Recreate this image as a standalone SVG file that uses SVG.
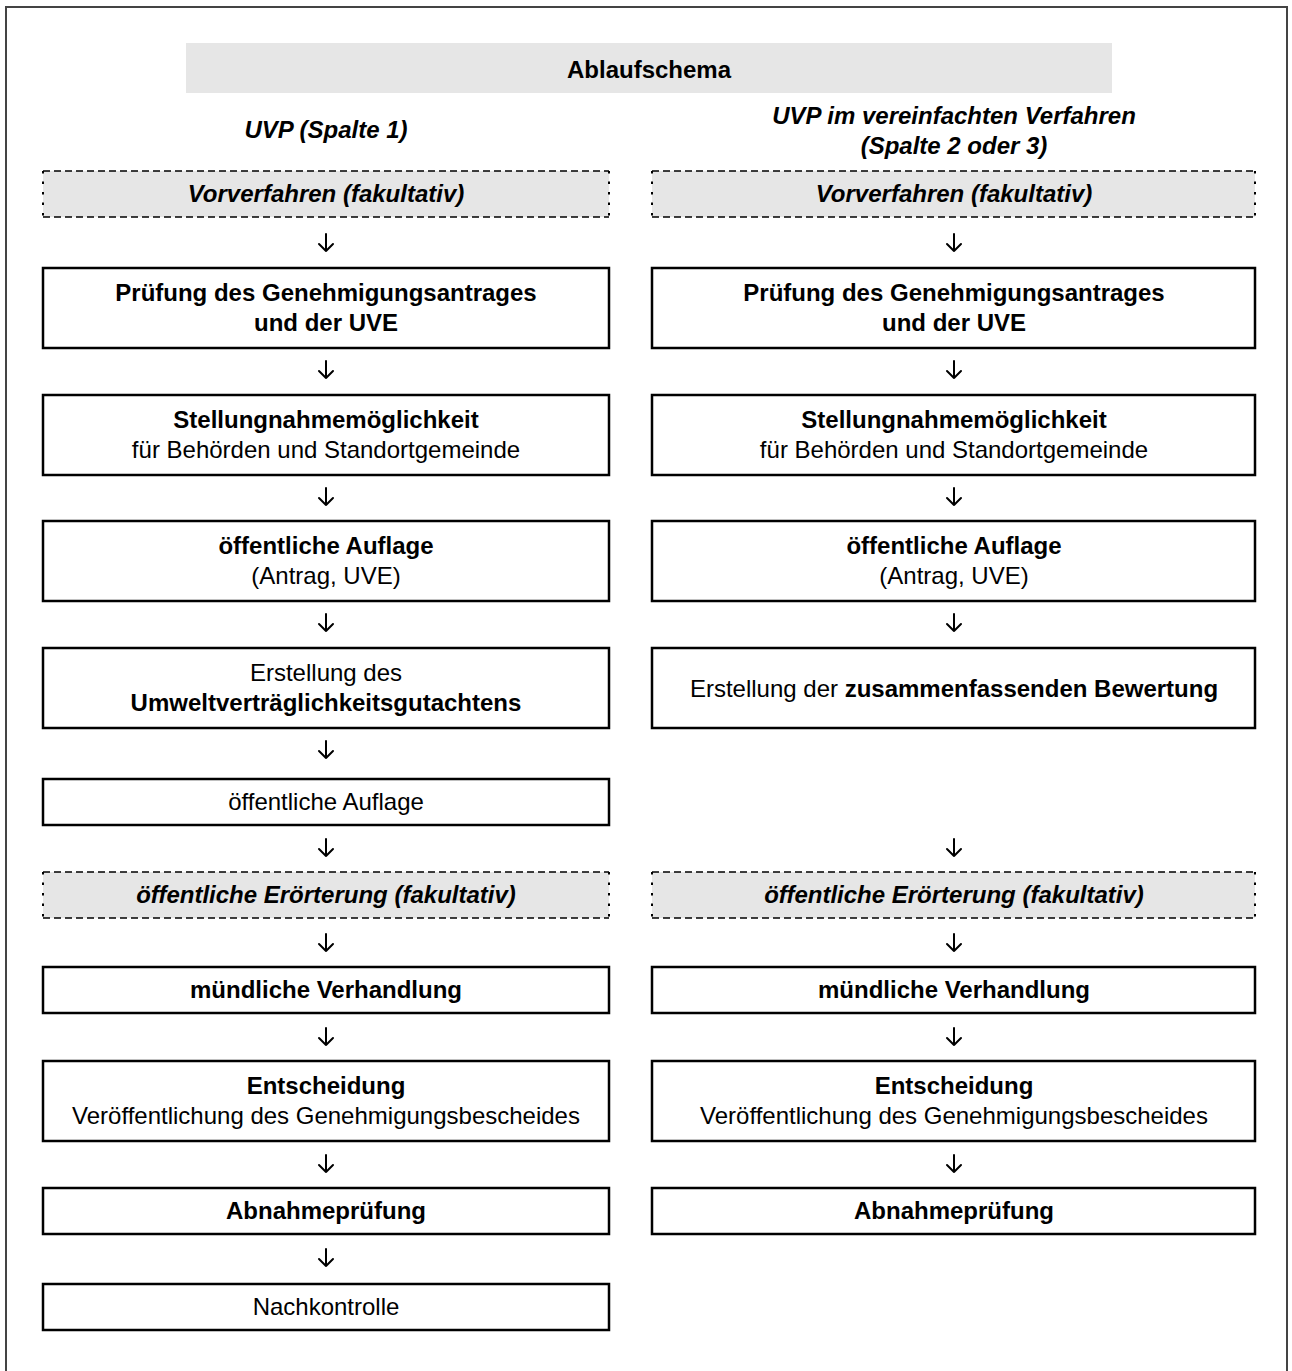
<svg xmlns="http://www.w3.org/2000/svg" width="1292" height="1371" viewBox="0 0 1292 1371">
<defs>
<style>
text{font-family:"Liberation Sans",Arial,sans-serif;font-size:24px;fill:#000;text-anchor:middle}
.b{font-weight:bold}
.bi{font-weight:bold;font-style:italic}
.box{fill:#fff;stroke:#000;stroke-width:2.5}
.opt{fill:#e6e6e6}
.dh{stroke:#000;stroke-width:1.5;stroke-dasharray:7 4;fill:none}
.dv{stroke:#000;stroke-width:2;stroke-dasharray:2.5 8;fill:none}
.arr{stroke:#000;stroke-width:2;fill:none;stroke-linecap:round;stroke-linejoin:round}
</style>
<g id="arrowDown"><path d="M0,-9 V8 M-7,1 L0,8 L7,1"/></g>
</defs>
<rect width="1292" height="1371" fill="#fff"/>
<rect x="6" y="7" width="1281" height="1400" fill="none" stroke="#444" stroke-width="2"/>

<g id="title">
<rect x="186" y="43" width="926" height="50" fill="#e6e6e6"/>
<text class="b" x="649" y="78">Ablaufschema</text>
</g>
<g id="head1"><text class="bi" x="326" y="138">UVP (Spalte 1)</text></g>
<g id="head2"><text class="bi" x="954" y="124">UVP im vereinfachten Verfahren</text><text class="bi" x="954" y="154">(Spalte 2 oder 3)</text></g>

<g id="L1"><rect class="opt" x="43" y="171" width="566" height="46"/><path class="dh" d="M43,171H609M43,217H609"/><path class="dv" d="M43,171V217M609,171V217"/><text class="bi" x="326" y="202">Vorverfahren (fakultativ)</text></g>
<g id="R1"><rect class="opt" x="652" y="171" width="603" height="46"/><path class="dh" d="M652,171H1255M652,217H1255"/><path class="dv" d="M652,171V217M1255,171V217"/><text class="bi" x="954" y="202">Vorverfahren (fakultativ)</text></g>

<g id="L2"><rect class="box" x="43" y="268" width="566" height="80"/><text class="b" x="326" y="301">Prüfung des Genehmigungsantrages</text><text class="b" x="326" y="331">und der UVE</text></g>
<g id="R2"><rect class="box" x="652" y="268" width="603" height="80"/><text class="b" x="954" y="301">Prüfung des Genehmigungsantrages</text><text class="b" x="954" y="331">und der UVE</text></g>

<g id="L3"><rect class="box" x="43" y="395" width="566" height="80"/><text class="b" x="326" y="428">Stellungnahmemöglichkeit</text><text x="326" y="458">für Behörden und Standortgemeinde</text></g>
<g id="R3"><rect class="box" x="652" y="395" width="603" height="80"/><text class="b" x="954" y="428">Stellungnahmemöglichkeit</text><text x="954" y="458">für Behörden und Standortgemeinde</text></g>

<g id="L4"><rect class="box" x="43" y="521" width="566" height="80"/><text class="b" x="326" y="554">öffentliche Auflage</text><text x="326" y="584">(Antrag, UVE)</text></g>
<g id="R4"><rect class="box" x="652" y="521" width="603" height="80"/><text class="b" x="954" y="554">öffentliche Auflage</text><text x="954" y="584">(Antrag, UVE)</text></g>

<g id="L5"><rect class="box" x="43" y="648" width="566" height="80"/><text x="326" y="681">Erstellung des</text><text class="b" x="326" y="711">Umweltverträglichkeitsgutachtens</text></g>
<g id="R5"><rect class="box" x="652" y="648" width="603" height="80"/><text x="954" y="697">Erstellung der <tspan class="b">zusammenfassenden Bewertung</tspan></text></g>

<g id="L6"><rect class="box" x="43" y="779" width="566" height="46"/><text x="326" y="810">öffentliche Auflage</text></g>

<g id="L7"><rect class="opt" x="43" y="872" width="566" height="46"/><path class="dh" d="M43,872H609M43,918H609"/><path class="dv" d="M43,872V918M609,872V918"/><text class="bi" x="326" y="903">öffentliche Erörterung (fakultativ)</text></g>
<g id="R7"><rect class="opt" x="652" y="872" width="603" height="46"/><path class="dh" d="M652,872H1255M652,918H1255"/><path class="dv" d="M652,872V918M1255,872V918"/><text class="bi" x="954" y="903">öffentliche Erörterung (fakultativ)</text></g>

<g id="L8"><rect class="box" x="43" y="967" width="566" height="46"/><text class="b" x="326" y="998">mündliche Verhandlung</text></g>
<g id="R8"><rect class="box" x="652" y="967" width="603" height="46"/><text class="b" x="954" y="998">mündliche Verhandlung</text></g>

<g id="L9"><rect class="box" x="43" y="1061" width="566" height="80"/><text class="b" x="326" y="1094">Entscheidung</text><text x="326" y="1124">Veröffentlichung des Genehmigungsbescheides</text></g>
<g id="R9"><rect class="box" x="652" y="1061" width="603" height="80"/><text class="b" x="954" y="1094">Entscheidung</text><text x="954" y="1124">Veröffentlichung des Genehmigungsbescheides</text></g>

<g id="L10"><rect class="box" x="43" y="1188" width="566" height="46"/><text class="b" x="326" y="1219">Abnahmeprüfung</text></g>
<g id="R10"><rect class="box" x="652" y="1188" width="603" height="46"/><text class="b" x="954" y="1219">Abnahmeprüfung</text></g>

<g id="L11"><rect class="box" x="43" y="1284" width="566" height="46"/><text x="326" y="1315">Nachkontrolle</text></g>

<g id="connectors" class="arr">
<use href="#arrowDown" x="326" y="243"/><use href="#arrowDown" x="954" y="243"/>
<use href="#arrowDown" x="326" y="370"/><use href="#arrowDown" x="954" y="370"/>
<use href="#arrowDown" x="326" y="497"/><use href="#arrowDown" x="954" y="497"/>
<use href="#arrowDown" x="326" y="623"/><use href="#arrowDown" x="954" y="623"/>
<use href="#arrowDown" x="326" y="750"/>
<use href="#arrowDown" x="326" y="848"/><use href="#arrowDown" x="954" y="848"/>
<use href="#arrowDown" x="326" y="943"/><use href="#arrowDown" x="954" y="943"/>
<use href="#arrowDown" x="326" y="1037"/><use href="#arrowDown" x="954" y="1037"/>
<use href="#arrowDown" x="326" y="1164"/><use href="#arrowDown" x="954" y="1164"/>
<use href="#arrowDown" x="326" y="1258"/>
</g>
</svg>
